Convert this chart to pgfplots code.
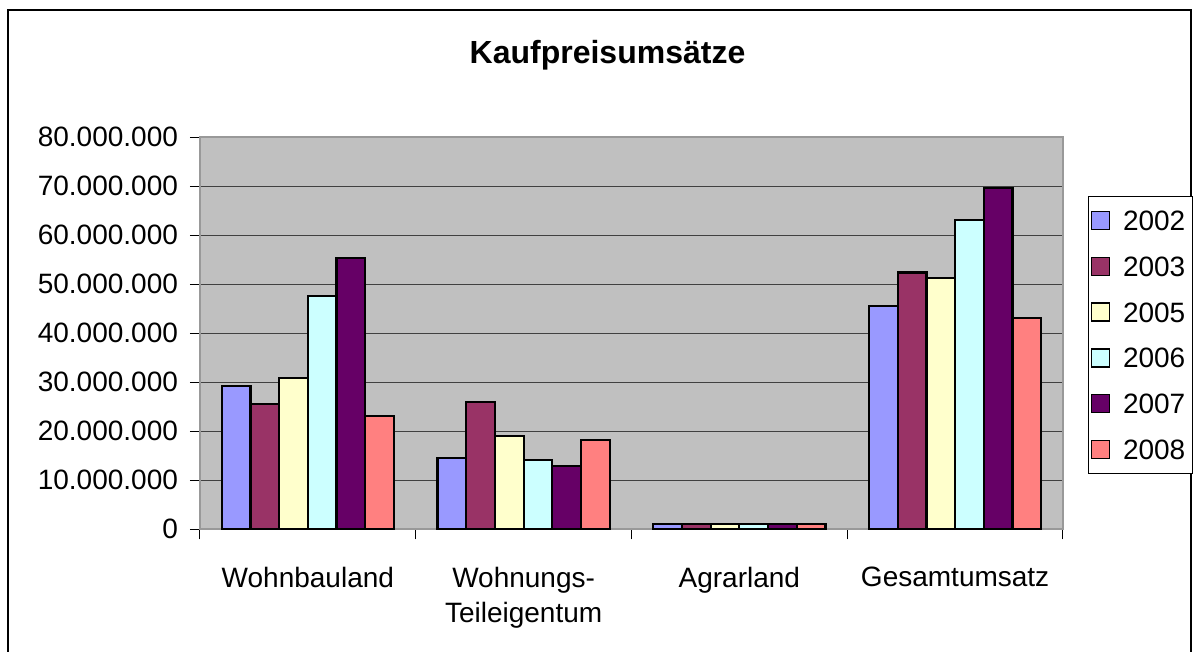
\documentclass[border=0pt]{standalone}
\usepackage{fontspec}
\setmainfont{Liberation Sans}
\usepackage{pgfplots}
\pgfplotsset{compat=1.18}

\definecolor{c2002}{HTML}{9999FF}
\definecolor{c2003}{HTML}{993366}
\definecolor{c2005}{HTML}{FFFFCC}
\definecolor{c2006}{HTML}{CCFFFF}
\definecolor{c2007}{HTML}{660066}
\definecolor{c2008}{HTML}{FF8080}
\definecolor{plotbg}{HTML}{C0C0C0}

\newcommand{\lbl}{\fontsize{14}{17.5}\selectfont}
\tikzset{bar/.style={draw=black, line width=1.1pt, fill=#1}}

\begin{document}
\begin{tikzpicture}
\useasboundingbox (-100pt,-61.35pt) rectangle (498pt,264.65pt);
% chart frame
\draw[black, line width=1pt] (-96pt,-70pt) -- (-96pt,259.65pt) -- (495.5pt,259.65pt) -- (495.5pt,-70pt);
\node[font=\bfseries\fontsize{16}{19}\selectfont] at (203.75pt,237pt) {Kaufpreisumsätze};
\begin{axis}[
    at={(0,0)}, anchor=south west,
    scale only axis,
    width=431.5pt, height=196pt,
    ybar=0pt,
    bar width=0.133,
    xmin=-0.5, xmax=3.5,
    ymin=0, ymax=80000000,
    ytick={0,10000000,...,80000000},
    scaled y ticks=false,
    xtick={0,1,2,3},
    xticklabels={Wohnbauland,{Wohnungs-\\Teileigentum},Agrarland,Gesamtumsatz},
    minor xtick={-0.5,0.5,1.5,2.5,3.5},
    major x tick style={draw=none},
    minor tick length=5pt,
    major tick length=5pt,
    tick align=outside,
    tick pos=left,
    tick style={black, line width=0.5pt},
    axis background/.style={fill=plotbg},
    axis line style={draw=gray!80, line width=0.8pt},
    ymajorgrids,
    grid style={draw=black!75, line width=0.5pt},
    xticklabel style={font=\lbl, align=center, yshift=-10.5pt},
    yticklabel style={font=\lbl, xshift=-2.5pt, /pgf/number format/.cd, fixed, precision=0, 1000 sep={.}, assume math mode=true},
    legend style={at={(rel axis cs:1.0291,0.85)}, anchor=north west,
        draw=black, line width=0.5pt, fill=white, font=\lbl,
        inner xsep=1pt, inner ysep=7pt, row sep=12.9pt, column sep=4pt,
        nodes={inner xsep=2.5pt, inner ysep=0pt, text height=10pt, text depth=0pt},
        cells={anchor=west}},
    legend image code/.code={\draw[#1, line width=0.7pt] (0pt,-4.5pt) rectangle (9pt,4.5pt);},
]
\addplot[bar=c2002] coordinates {(0,29200000) (1,14500000) (2,1000000) (3,45600000)};
\addplot[bar=c2003] coordinates {(0,25600000) (1,25900000) (2,1000000) (3,52400000)};
\addplot[bar=c2005] coordinates {(0,30800000) (1,19000000) (2,1000000) (3,51300000)};
\addplot[bar=c2006] coordinates {(0,47600000) (1,14100000) (2,1000000) (3,63200000)};
\addplot[bar=c2007] coordinates {(0,55400000) (1,12900000) (2,1000000) (3,69700000)};
\addplot[bar=c2008] coordinates {(0,23100000) (1,18200000) (2,1000000) (3,43100000)};
\legend{2002,2003,2005,2006,2007,2008}
\end{axis}
\end{tikzpicture}
\end{document}
